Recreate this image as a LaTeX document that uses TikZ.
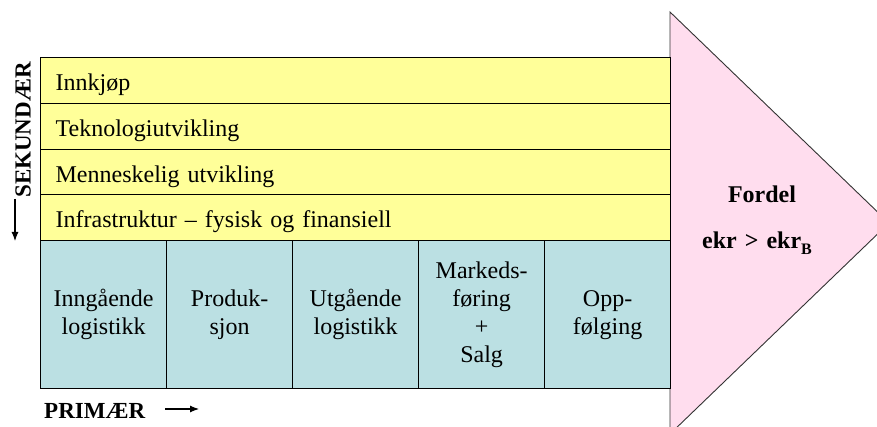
\documentclass[tikz,border=0pt]{standalone}
\usepackage{fontspec}
\setmainfont{Liberation Serif}
\usetikzlibrary{arrows.meta}
\definecolor{secfill}{HTML}{FFFF99}
\definecolor{primfill}{HTML}{BBE0E3}
\definecolor{gainfill}{HTML}{FFDDEE}
\newcommand{\subB}{\raisebox{-6pt}{\fontsize{16}{16}\selectfont B}}
\newcommand{\gap}{\hspace{8pt}}
\begin{document}
\begin{tikzpicture}[x=1pt,y=-1pt,
  every node/.style={font=\rmfamily\fontsize{24}{28}\selectfont},
  seccell/.style={draw=black, line width=1.3pt, fill=secfill, anchor=north west,
    minimum width=630pt, minimum height=46pt, text width=600pt, inner xsep=15pt,
    inner ysep=0pt, align=left, text height=20pt, text depth=0pt},
  primcell/.style={draw=black, line width=1.3pt, fill=primfill, anchor=north west,
    minimum width=126pt, minimum height=148pt, text width=116pt, inner xsep=5pt,
    inner ysep=0pt, align=center},
  gain/.style={draw=black!80, line width=0.9pt, fill=gainfill},
  axislabel/.style={font=\rmfamily\bfseries\fontsize{23}{28}\selectfont, inner sep=0pt},
  axisarrow/.style={line width=1.1pt, -{Latex[length=9pt,width=7pt]}}
]
\useasboundingbox (0,0) rectangle (877,427);

% value triangle on the right, cut by the page edge
\begin{scope}
  \clip (0,0) rectangle (877,427);
  \path[gain] (670,12) -- (889,223) -- (670,434) -- cycle;
\end{scope}
\node[font=\rmfamily\bfseries\fontsize{24}{28}\selectfont, align=center] (gain) at (757,220)
  {\hspace{10pt}Fordel\\[18pt]ekr\gap>\gap ekr\subB};

% support activities
\node[seccell] (innkjop) at (40,57)  {Innkjøp};
\node[seccell] (tekn)    at (40,103) {Teknologiutvikling};
\node[seccell, minimum height=45pt] (menn) at (40,149) {Menneskelig utvikling};
\node[seccell] (infra)   at (40,194) {Infrastruktur – fysisk og finansiell};

% primary activities
\node[primcell] (inng)  at (40,240)  {Inngående\\logistikk};
\node[primcell] (prod)  at (166,240) {Produk-\\sjon};
\node[primcell] (utg)   at (292,240) {Utgående\\logistikk};
\node[primcell] (mark)  at (418,240) {Markeds-\\føring\\+\\Salg};
\node[primcell] (oppf)  at (544,240) {Opp-\\følging};

% axis labels
\node[axislabel, rotate=90] (sek) at (23,130) {SEKUNDÆR};
\coordinate (sekA) at (15,199);
\coordinate (sekB) at (15,241);
\draw[axisarrow] (sekA) -- (sekB);

\node[axislabel, anchor=west] (prim) at (44,411) {PRIMÆR};
\coordinate (primA) at (165,409);
\coordinate (primB) at (199,409);
\draw[axisarrow] (primA) -- (primB);
\end{tikzpicture}
\end{document}
